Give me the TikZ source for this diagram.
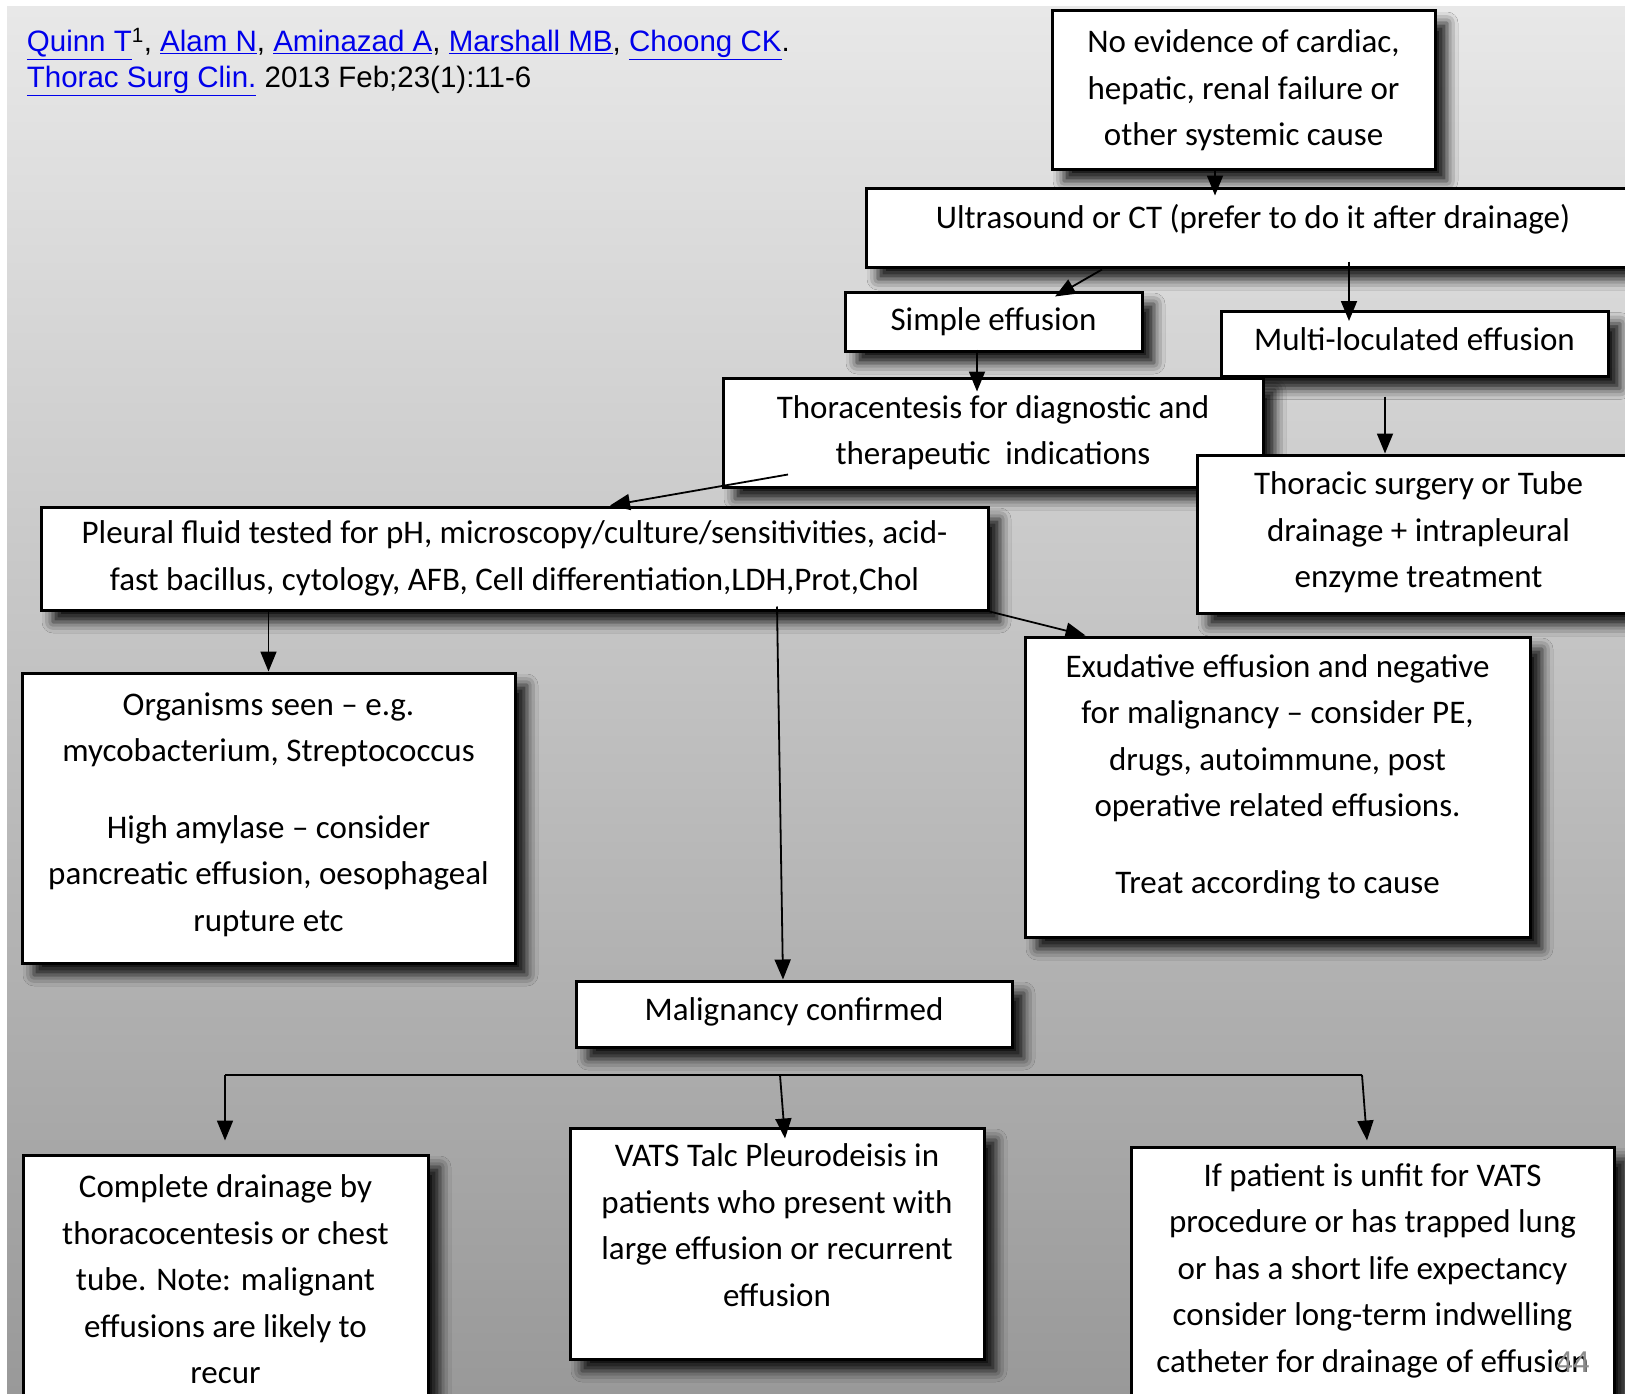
\documentclass[tikz,border=0pt]{standalone}
\usepackage{fontspec}
\setmainfont{Carlito}
\newfontfamily\citefont{Liberation Sans}
\usepackage{tikz}
\usetikzlibrary{arrows.meta,calc,shadows.blur}

\definecolor{linkblue}{RGB}{0,0,235}
\newcommand{\lnk}[1]{\textcolor{linkblue}{\underline{#1}}}

\begin{document}
\begin{tikzpicture}[->,>={Triangle[length=20pt,width=16pt]},x=1pt,y=-1pt,line width=1.8pt]
\tikzstyle{flowbox}=[draw=black,line width=3pt,fill=white,inner sep=0pt,align=center,font=\fontsize{33}{46.5}\selectfont,blur shadow={shadow xshift=12pt,shadow yshift=-12pt,shadow blur radius=11pt,shadow opacity=92}]
\tikzstyle{citeline}=[anchor=base west,inner sep=0pt,font=\citefont\fontsize{29.5}{34}\selectfont]

\useasboundingbox (0,0) rectangle (1625,1394);
\shade[-,top color=black!9,bottom color=black!40] (7,7) rectangle (1625,1394);

% citation
\node[citeline] (cite1) at (26,52) {\lnk{Quinn T}\textsuperscript{1}, \lnk{Alam N}, \lnk{Aminazad A}, \lnk{Marshall MB}, \lnk{Choong CK}.};
\node[citeline] (cite2) at (26,88) {\lnk{Thorac Surg Clin.} 2013 Feb;23(1):11-6};

% boxes
\node[flowbox,minimum width=383pt,minimum height=158pt,text depth=4pt] (noev) at (1243.5,90) {No evidence of cardiac,\\hepatic, renal failure or\\other systemic cause};
\node[flowbox,minimum width=774pt,minimum height=79pt,text depth=22pt] (imaging) at (1253,227.5) {Ultrasound or CT (prefer to do it after drainage)};
\node[flowbox,minimum width=297pt,minimum height=59pt] (simple) at (993.5,321.5) {Simple effusion};
\node[flowbox,minimum width=387pt,minimum height=65pt,text depth=10pt] (multi) at (1414.5,344) {Multi-loculated effusion};
\node[flowbox,minimum width=540pt,minimum height=109pt,text depth=5pt] (tap) at (993,432.5) {Thoracentesis for diagnostic and\\therapeutic\ \ indications};
\node[flowbox,minimum width=443pt,minimum height=158pt,text depth=8pt] (surg) at (1418.5,534) {Thoracic surgery or Tube\\drainage + intrapleural\\enzyme treatment};
\node[flowbox,minimum width=947pt,minimum height=103pt] (fluid) at (514.5,558.5) {Pleural fluid tested for pH, microscopy/culture/sensitivities, acid-\\fast bacillus, cytology, AFB, Cell differentiation,LDH,Prot,Chol};
\node[flowbox,minimum width=493pt,minimum height=290pt,text depth=12pt] (orgs) at (268.5,818) {Organisms seen -- e.g.\\mycobacterium, Streptococcus\\[30pt]High amylase -- consider\\pancreatic effusion, oesophageal\\rupture etc};
\node[flowbox,minimum width=505pt,minimum height=300pt,text depth=26pt] (exud) at (1277.5,787) {Exudative effusion and negative\\for malignancy -- consider PE,\\drugs, autoimmune, post\\operative related effusions.\\[30pt]Treat according to cause};
\node[flowbox,minimum width=436pt,minimum height=66pt,text depth=10pt] (malig) at (794,1014) {Malignancy confirmed};
\node[flowbox,minimum width=405pt,minimum height=255pt,text depth=6pt] (drain) at (225.5,1282.5) {Complete drainage by\\thoracocentesis or chest\\tube. Note: malignant\\effusions are likely to\\recur};
\node[flowbox,minimum width=414pt,minimum height=231pt,text depth=37pt] (vats) at (777,1243.5) {VATS Talc Pleurodeisis in\\patients who present with\\large effusion or recurrent\\effusion};
\node[flowbox,minimum width=483pt,minimum height=263pt,text depth=21pt] (ipc) at (1372.5,1278.5) {If patient is unfit for VATS\\procedure or has trapped lung\\or has a short life expectancy\\consider long-term indwelling\\catheter for drainage of effusion};

\node[text=black!45,inner sep=0pt,font=\citefont\fontsize{30}{30}\selectfont] (pg) at (1573,1362) {44};

% connectors
\path ($(noev.south)+(-28.5,0)$) edge ($(imaging.north)+(-38,9)$)
	($(imaging.south)+(-151,1)$) edge ($(simple.north)+(61.5,6)$)
	($(imaging.south)+(96,-7)$) edge ($(multi.north)+(-65.5,11)$)
	($(simple.south)+(-16.5,-3)$) edge ($(tap.north)+(-16,15)$)
	($(multi.south)+(-29.5,18.5)$) edge ($(surg.north)+(-33.5,0)$)
	($(tap.south)+(-205,-14)$) edge ($(fluid.north)+(95.5,0)$)
	(orgs.north |- fluid.south) edge (orgs.north)
	($(fluid.south)+(262.5,-5)$) edge ($(malig.north)+(-11,0)$)
	(fluid.south east) edge ($(exud.north west)+(62,0)$);

\coordinate (barL) at (225,1075);
\coordinate (barM) at (780,1075);
\coordinate (barR) at (1362,1075);
\draw[-,line width=2.5pt] (barL) -- (barR);
\path (barL) edge ($(drain.north)+(-0.5,-13)$)
	(barM) edge ($(vats.north)+(8,12)$)
	(barR) edge ($(ipc.north)+(-5.5,-5)$);
\end{tikzpicture}
\end{document}
